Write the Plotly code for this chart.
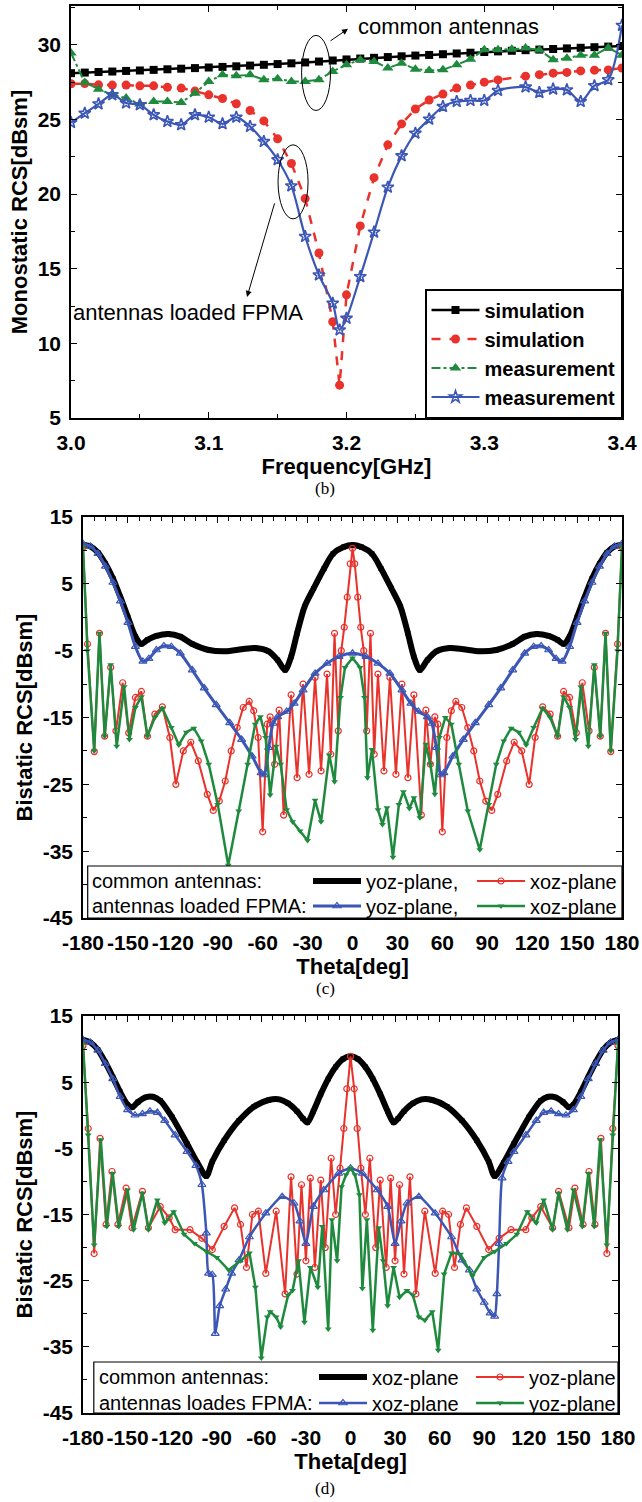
import plotly.graph_objects as go

W, H = 642, 1502

# ---------------- (b) Monostatic RCS vs frequency ----------------
freq_black = [3.00, 3.01, 3.02, 3.03, 3.04, 3.05, 3.06, 3.07, 3.08, 3.09, 3.10,
              3.11, 3.12, 3.13, 3.14, 3.15, 3.16, 3.17, 3.18, 3.19, 3.20,
              3.21, 3.22, 3.23, 3.24, 3.25, 3.26, 3.27, 3.28, 3.29, 3.30,
              3.31, 3.32, 3.33, 3.34, 3.35, 3.36, 3.37, 3.38, 3.39, 3.40]
rcs_sim_common = [28.10, 28.14, 28.18, 28.21, 28.25, 28.28, 28.32, 28.36, 28.40, 28.44, 28.48,
                  28.52, 28.56, 28.61, 28.66, 28.71, 28.76, 28.82, 28.88, 28.95, 29.02,
                  29.08, 29.13, 29.18, 29.23, 29.28, 29.32, 29.37, 29.42, 29.47, 29.52,
                  29.56, 29.60, 29.64, 29.68, 29.72, 29.76, 29.80, 29.84, 29.88, 29.92]

freq_red = [3.00, 3.01, 3.02, 3.03, 3.04, 3.05, 3.06, 3.07, 3.08, 3.09, 3.10,
            3.11, 3.12, 3.13, 3.14, 3.15, 3.16, 3.17, 3.18, 3.19, 3.195, 3.20,
            3.21, 3.22, 3.23, 3.24, 3.25, 3.26, 3.27, 3.28, 3.29, 3.30,
            3.31, 3.33, 3.34, 3.35, 3.36, 3.37, 3.38, 3.39, 3.40]
rcs_sim_fpma = [27.39, 27.40, 27.32, 27.30, 27.30, 27.25, 27.25, 27.15, 27.10, 26.90, 26.65,
                26.40, 26.05, 25.60, 24.90, 23.70, 22.05, 19.70, 16.05, 11.45, 7.20, 13.25,
                17.87, 21.10, 23.30, 24.70, 25.70, 26.30, 26.70, 27.10, 27.30, 27.50,
                27.65, 27.90, 28.00, 28.10, 28.15, 28.25, 28.30, 28.32, 28.45]

freq_green = [3.00, 3.01, 3.02, 3.03, 3.04, 3.05, 3.06, 3.07, 3.08, 3.09, 3.10,
              3.11, 3.12, 3.13, 3.14, 3.15, 3.16, 3.17, 3.18, 3.19, 3.20,
              3.21, 3.22, 3.23, 3.24, 3.25, 3.26, 3.27, 3.28, 3.29, 3.30,
              3.31, 3.32, 3.33, 3.34, 3.35, 3.36, 3.37, 3.38, 3.39, 3.40]
rcs_meas_common = [29.45, 27.48, 27.03, 26.65, 26.43, 26.03, 26.20, 26.20, 26.14, 26.76, 27.55,
                   27.99, 27.92, 27.99, 27.66, 27.73, 27.55, 27.55, 27.66, 28.22, 28.66,
                   29.00, 28.89, 28.44, 28.77, 28.37, 28.28, 28.33, 28.66, 29.04, 29.67,
                   29.67, 29.70, 29.78, 29.66, 29.00, 29.10, 29.30, 29.30, 29.80, 29.30]

freq_blue = [3.00, 3.01, 3.02, 3.03, 3.04, 3.05, 3.06, 3.07, 3.08, 3.09, 3.10,
             3.11, 3.12, 3.13, 3.14, 3.15, 3.16, 3.17, 3.18, 3.19, 3.195, 3.20,
             3.21, 3.22, 3.23, 3.24, 3.25, 3.26, 3.27, 3.28, 3.29, 3.30,
             3.31, 3.33, 3.34, 3.35, 3.36, 3.37, 3.38, 3.39, 3.40]
rcs_meas_fpma = [24.79, 25.42, 26.04, 26.65, 26.10, 25.98, 25.31, 24.86, 24.64, 25.31, 25.15,
                 24.71, 25.15, 24.53, 23.52, 22.30, 20.55, 17.16, 14.58, 12.69, 10.90, 11.68,
                 14.47, 17.45, 20.46, 22.56, 24.08, 25.02, 25.86, 26.20, 26.27, 26.27,
                 26.94, 27.17, 26.80, 27.03, 26.98, 26.20, 27.26, 27.66, 31.30]

freq_tickvals = [3.0, 3.1, 3.2, 3.3, 3.4]
freq_ticktext = ["3.0", "3.1", "3.2", "3.3", "3.4"]
mono_tickvals = [5, 10, 15, 20, 25, 30]
mono_ticktext = ["5", "10", "15", "20", "25", "30"]

# ---------------- (c) Bistatic RCS, first case ----------------
c_black_theta = [-180, -175, -170, -165, -160, -155, -150, -145, -141, -137, -131, -123, -115, -107,
                 -96, -85, -74, -65, -56, -50, -45, -41, -37, -32, -26, -19, -13, -6, 0,
                 6, 13, 19, 26, 32, 37, 41, 45, 50, 56, 65, 74, 85, 96,
                 107, 115, 123, 131, 137, 141, 145, 150, 155, 160, 165, 170, 175, 180]
c_black_val = [10.8, 10.6, 9.7, 8.0, 5.8, 3.0, 0.0, -2.9, -4.0, -3.4, -2.8, -2.5, -2.9, -4.0,
               -4.9, -5.1, -4.8, -4.6, -5.1, -6.4, -7.9, -5.9, -2.4, 1.6, 4.3, 7.3, 9.5, 10.5, 10.8,
               10.5, 9.5, 7.3, 4.3, 1.6, -2.4, -5.9, -7.9, -6.4, -5.1, -4.6, -4.8, -5.1, -4.9,
               -4.0, -2.9, -2.5, -2.8, -3.4, -4.0, -2.9, 0.0, 3.0, 5.8, 8.0, 9.7, 10.6, 10.8]

c_red_theta = [-180, -177, -172.5, -169, -165.5, -161.5, -158, -153.5, -149.5, -145, -141, -137,
               -132, -127, -122, -118, -113, -108, -103, -97, -93, -89, -85, -81, -77, -73,
               -69, -66, -63, -60, -57, -55, -52, -49, -46, -41, -37, -33, -29, -25, -21,
               -17, -14.5, -12, -9.5, -7.5, -5.5, -3.5, -1.5, 0,
               1.5, 3.5, 5.5, 7.5, 9.5, 12, 14.5, 17, 21, 25, 29, 33, 37, 41, 46, 49, 52,
               55, 57, 60, 63, 66, 69, 73, 77, 81, 85, 89, 93, 97, 103, 108, 113, 118,
               122, 127, 132, 137, 141, 145, 149.5, 153.5, 158, 161.5, 165.5, 169, 172.5, 177, 180]
c_red_val = [10.5, -4.0, -20.1, -2.4, -17.8, -7.5, -17.0, -9.8, -17.3, -12.0, -11.1, -17.8,
             -14.5, -13.4, -18.0, -25.0, -20.0, -18.7, -21.5, -26.5, -28.9, -27.5, -24.5, -20.0, -16.5, -13.5,
             -12.6, -14.0, -18.0, -32.1, -16.0, -14.9, -22.0, -13.9, -29.6, -11.6, -24.0, -10.0, -23.5, -9.0, -23.0,
             -8.5, -20.5, -2.4, -17.0, -5.0, -1.5, 3.0, 8.0, 10.3,
             8.0, 3.0, -1.5, -5.0, -17.0, -2.4, -20.5, -8.5, -23.0, -9.0, -23.5, -10.0, -24.0, -11.6, -29.6, -13.9, -22.0,
             -14.9, -16.0, -32.1, -18.0, -14.0, -12.6, -13.5, -16.5, -20.0, -24.5, -27.5, -28.9, -26.5, -21.5, -18.7, -20.0, -25.0,
             -18.0, -13.4, -14.5, -17.8, -11.1, -12.0, -17.3, -9.8, -17.0, -7.5, -17.8, -2.4, -20.1, -4.0, 10.5]

c_blue_theta = [-180, -175, -170, -165, -160, -155, -150, -145, -140, -136, -131, -126, -121, -115,
                -107, -99, -91, -82, -74, -67, -61, -59, -56, -53, -50, -44, -39, -33, -25, -17, -9, 0,
                9, 17, 25, 33, 39, 44, 50, 53, 56, 59, 61, 67, 74, 82, 91, 99, 107,
                115, 121, 126, 131, 136, 140, 145, 150, 155, 160, 165, 170, 175, 180]
c_blue_val = [11.0, 10.6, 9.5, 7.6, 5.2, 2.4, -0.8, -4.4, -6.6, -6.2, -4.9, -4.3, -4.4, -5.4,
              -7.9, -10.6, -13.1, -15.8, -18.3, -20.8, -23.3, -23.6, -19.5, -15.9, -14.9, -14.1, -12.9, -10.9, -8.4, -6.9, -5.9, -5.4,
              -5.9, -6.9, -8.4, -10.9, -12.9, -14.1, -14.9, -15.9, -19.5, -23.6, -23.3, -20.8, -18.3, -15.8, -13.1, -10.6, -7.9,
              -5.4, -4.4, -4.3, -4.9, -6.2, -6.6, -4.4, -0.8, 2.4, 5.2, 7.6, 9.5, 10.6, 11.0]

c_green_theta = [-180, -177, -172.5, -169, -165.5, -161.5, -157.5, -152.5, -149, -145, -141, -137, -132,
                 -127, -121, -116, -111, -106, -101, -96, -90, -83, -76, -70, -65, -61.5, -58, -55, -51,
                 -48, -44, -40, -35, -30, -25, -21, -15.5, -12, -8, -5, 0,
                 5, 8, 10, 13, 17, 20, 23, 27, 31, 34, 38, 41, 45, 49, 52, 55, 58, 62, 66,
                 71, 77, 85, 91, 96, 101, 106, 111, 116, 121, 127, 132, 137, 141, 145, 149,
                 152.5, 157.5, 161.5, 165.5, 169, 172.5, 177, 180]
c_green_val = [10.5, -5.0, -20.0, -2.4, -17.8, -7.1, -19.3, -10.4, -18.3, -13.5, -11.9, -17.8, -15.0,
               -13.6, -16.5, -19.1, -17.2, -16.6, -18.5, -22.0, -28.0, -37.1, -29.0, -22.0, -16.0, -14.9, -18.0, -26.6, -19.3,
               -22.0, -28.8, -30.6, -32.0, -33.4, -27.4, -30.6, -20.6, -24.6, -12.0, -7.5, -6.1,
               -7.5, -12.0, -24.0, -19.8, -28.8, -31.0, -28.5, -35.9, -28.0, -26.1, -28.6, -27.0, -30.0, -19.0, -22.0, -26.5, -18.0, -15.0, -16.0,
               -22.0, -29.0, -34.8, -28.0, -22.0, -18.5, -16.6, -17.2, -19.1, -16.5, -13.6, -15.0, -17.8, -11.9, -13.5, -18.3,
               -10.4, -19.3, -7.1, -17.8, -2.4, -20.0, -5.0, 10.5]

# ---------------- (d) Bistatic RCS, second case ----------------
d_black_theta = [-180, -175, -170, -165, -160, -155, -150, -147, -143, -138, -133, -128, -120, -110,
                 -103, -97, -93, -85, -75, -65, -55, -48, -42, -36, -32, -29, -25, -20, -15, -10, -5, 0,
                 5, 10, 15, 20, 25, 29, 32, 36, 42, 48, 55, 65, 75, 85, 93, 97,
                 103, 110, 120, 128, 133, 138, 143, 147, 150, 155, 160, 165, 170, 175, 180]
d_black_val = [11.4, 11.0, 9.9, 8.0, 5.8, 3.5, 1.6, 1.2, 2.0, 2.7, 2.8, 2.2, -0.3, -4.3,
               -7.2, -9.2, -7.0, -3.8, -0.8, 1.3, 2.3, 2.4, 1.8, 0.6, -0.5, -1.1, 0.6, 3.2, 5.5, 7.3, 8.5, 8.9,
               8.5, 7.3, 5.5, 3.2, 0.6, -1.1, -0.5, 0.6, 1.8, 2.4, 2.3, 1.3, -0.8, -3.8, -7.0, -9.2,
               -7.2, -4.3, -0.3, 2.2, 2.8, 2.7, 2.0, 1.2, 1.6, 3.5, 5.8, 8.0, 9.9, 11.0, 11.4]

d_red_theta = [-180, -176.5, -172.5, -168.5, -164.5, -160.5, -156.5, -151, -147, -140, -136, -128,
               -122, -118, -108, -100, -93, -85, -78, -74, -70, -66, -62, -57, -50, -44, -40, -36,
               -33, -30, -27, -24, -20, -17, -13, -10, -7, -4.5, -2.5, 0,
               2.5, 4.5, 7, 10, 13, 17, 20, 24, 27, 30, 33, 36, 40, 44, 50, 57, 62, 66, 70,
               74, 78, 85, 93, 100, 108, 118, 122, 128, 136, 140, 147, 151, 156.5, 160.5,
               164.5, 168.5, 172.5, 176.5, 180]
d_red_val = [10.5, -2.0, -20.9, -3.5, -16.5, -8.5, -16.5, -11.0, -17.0, -11.5, -17.0, -13.8,
             -15.5, -17.3, -17.3, -18.6, -20.3, -16.8, -14.0, -16.5, -23.0, -15.0, -14.5, -23.9, -14.5, -27.0, -9.3, -24.0,
             -10.5, -22.0, -9.5, -23.0, -9.8, -20.0, -6.5, -15.0, -8.0, -2.0, 4.0, 8.9,
             4.0, -2.0, -8.0, -15.0, -6.5, -20.0, -9.8, -23.0, -9.5, -22.0, -10.5, -24.0, -9.3, -27.0, -14.5, -23.9, -14.5, -15.0, -23.0,
             -16.5, -14.0, -16.8, -20.3, -18.6, -17.3, -17.3, -15.5, -13.8, -17.0, -11.5, -17.0, -11.0, -16.5, -8.5,
             -16.5, -3.5, -20.9, -2.0, 10.5]

d_blue_theta = [-180, -175, -170, -165, -160, -155, -150, -145, -140, -135, -130, -125, -118, -110,
                -104, -100, -97, -95.5, -93, -91, -88, -84, -80, -75, -68, -57, -46, -38, -34, -30,
                -25, -18, -8, 0,
                8, 18, 25, 30, 34, 38, 46, 57, 68, 75, 80, 85, 90, 94, 97, 98.5, 100, 102,
                106, 110, 118, 125, 130, 135, 140, 145, 150, 155, 160, 165, 170, 175, 180]
d_blue_val = [11.4, 11.0, 9.8, 7.8, 5.5, 2.8, 0.8, 0.0, 0.2, 0.6, 0.4, -0.8, -3.0, -5.5,
              -7.6, -10.5, -17.8, -23.9, -24.1, -33.0, -28.8, -26.3, -23.9, -21.9, -18.4, -14.8, -12.3, -13.3, -16.0, -19.4,
              -13.8, -11.3, -8.8, -8.0,
              -8.8, -11.3, -13.8, -19.4, -16.0, -13.3, -12.3, -14.8, -18.4, -21.9, -23.4, -26.3, -28.3, -29.9, -30.4, -27.0, -19.4, -9.5,
              -7.0, -5.5, -3.0, -0.8, 0.4, 0.6, 0.2, 0.0, 0.8, 2.8, 5.5, 7.8, 9.8, 11.0, 11.4]

d_green_theta = [-180, -176.5, -172.5, -168, -164, -160, -156, -150, -146, -140, -136, -130, -125,
                 -119, -112, -105, -97, -90, -82, -74, -68, -64, -60, -56, -54, -50, -47, -42, -39,
                 -35, -31, -27, -22, -19, -15, -12.5, -9, -6, -3, 0,
                 3, 6, 8, 11, 15, 19, 22, 25, 29, 33, 38, 42, 46, 50, 55, 59, 63, 68, 74,
                 82, 90, 97, 105, 112, 119, 125, 130, 136, 140, 146, 150, 156, 160, 164, 168,
                 172.5, 176.5, 180]
d_green_val = [10.8, -3.0, -19.6, -3.7, -16.8, -8.8, -16.8, -11.3, -17.3, -11.8, -17.3, -12.8, -16.3,
               -14.6, -18.0, -19.4, -20.6, -21.5, -23.4, -22.0, -20.8, -26.0, -36.7, -30.5, -29.7, -30.5, -32.0, -27.2, -26.5,
               -22.0, -31.3, -23.0, -26.0, -16.8, -32.3, -15.8, -22.0, -10.8, -9.0, -8.0,
               -9.0, -12.0, -26.2, -15.8, -32.5, -17.0, -22.0, -28.8, -23.0, -27.5, -26.5, -27.2, -30.5, -31.0, -29.7, -35.5, -24.0, -20.8, -21.0,
               -24.3, -21.5, -20.6, -19.4, -18.0, -14.6, -16.3, -12.8, -17.3, -11.8, -17.3, -11.3, -16.8, -8.8, -16.8, -3.7,
               -19.6, -3.0, 10.8]

theta_tickvals = [-180, -150, -120, -90, -60, -30, 0, 30, 60, 90, 120, 150, 180]
theta_ticktext = ["-180", "-150", "-120", "-90", "-60", "-30", "0", "30", "60", "90", "120", "150", "180"]
bi_tickvals = [15, 5, -5, -15, -25, -35, -45]
bi_ticktext = ["15", "5", "-5", "-15", "-25", "-35", "-45"]

# ---------------- styling ----------------
BLACK = "#000000"
RED = "#e8322b"
GREEN = "#1f8a3e"
BLUE = "#3b56b5"
SANS = "Liberation Sans"
SERIF = "Liberation Serif"


def px2x(px):
    return px / W


def px2y(py):
    return 1 - py / H


fig = go.Figure()

# (b)
fig.add_trace(go.Scatter(x=freq_black, y=rcs_sim_common, name="simulation", mode="lines+markers",
                         line=dict(color=BLACK, width=2.5),
                         marker=dict(symbol="square", size=8, color=BLACK),
                         xaxis="x", yaxis="y", legend="legend"))
fig.add_trace(go.Scatter(x=freq_red, y=rcs_sim_fpma, name="simulation", mode="lines+markers",
                         line=dict(color=RED, width=2.5, dash="dash"),
                         marker=dict(symbol="circle", size=9, color=RED),
                         xaxis="x", yaxis="y", legend="legend"))
fig.add_trace(go.Scatter(x=freq_green, y=rcs_meas_common, name="measurement", mode="lines+markers",
                         line=dict(color=GREEN, width=2, dash="dashdot"),
                         marker=dict(symbol="triangle-up", size=10, color=GREEN),
                         xaxis="x", yaxis="y", legend="legend"))
fig.add_trace(go.Scatter(x=freq_blue, y=rcs_meas_fpma, name="measurement", mode="lines+markers",
                         line=dict(color=BLUE, width=2.2, shape="spline", smoothing=0.8),
                         marker=dict(symbol="star-open", size=9, color=BLUE, line=dict(width=1.6, color=BLUE)),
                         xaxis="x", yaxis="y", legend="legend"))

# (c)
fig.add_trace(go.Scatter(x=c_black_theta, y=c_black_val, name="yoz-plane,", mode="lines+markers",
                         line=dict(color=BLACK, width=6, shape="spline", smoothing=0.8),
                         marker=dict(symbol="square", size=5, color=BLACK),
                         xaxis="x2", yaxis="y2", legend="legend2"))
fig.add_trace(go.Scatter(x=c_red_theta, y=c_red_val, name="xoz-plane", mode="lines+markers",
                         line=dict(color=RED, width=2),
                         marker=dict(symbol="circle-open", size=6, color=RED, line=dict(width=1.2, color=RED)),
                         xaxis="x2", yaxis="y2", legend="legend2"))
fig.add_trace(go.Scatter(x=c_blue_theta, y=c_blue_val, name="yoz-plane,", mode="lines+markers",
                         line=dict(color=BLUE, width=3, shape="spline", smoothing=0.8),
                         marker=dict(symbol="triangle-up-open", size=7, color=BLUE, line=dict(width=1.2, color=BLUE)),
                         xaxis="x2", yaxis="y2", legend="legend3"))
fig.add_trace(go.Scatter(x=c_green_theta, y=c_green_val, name="xoz-plane", mode="lines+markers",
                         line=dict(color=GREEN, width=2.5),
                         marker=dict(symbol="triangle-down", size=6, color=GREEN),
                         xaxis="x2", yaxis="y2", legend="legend3"))

# (d)
fig.add_trace(go.Scatter(x=d_black_theta, y=d_black_val, name="xoz-plane", mode="lines+markers",
                         line=dict(color=BLACK, width=6, shape="spline", smoothing=0.8),
                         marker=dict(symbol="square", size=5, color=BLACK),
                         xaxis="x3", yaxis="y3", legend="legend4"))
fig.add_trace(go.Scatter(x=d_red_theta, y=d_red_val, name="yoz-plane", mode="lines+markers",
                         line=dict(color=RED, width=2),
                         marker=dict(symbol="circle-open", size=6, color=RED, line=dict(width=1.2, color=RED)),
                         xaxis="x3", yaxis="y3", legend="legend4"))
fig.add_trace(go.Scatter(x=d_blue_theta, y=d_blue_val, name="xoz-plane", mode="lines+markers",
                         line=dict(color=BLUE, width=2.5, shape="spline", smoothing=0.6),
                         marker=dict(symbol="triangle-up-open", size=7, color=BLUE, line=dict(width=1.2, color=BLUE)),
                         xaxis="x3", yaxis="y3", legend="legend5"))
fig.add_trace(go.Scatter(x=d_green_theta, y=d_green_val, name="yoz-plane", mode="lines+markers",
                         line=dict(color=GREEN, width=2.5),
                         marker=dict(symbol="triangle-down", size=6, color=GREEN),
                         xaxis="x3", yaxis="y3", legend="legend5"))

tick_font = dict(family=SANS, size=21, color="black", weight="bold")
title_font = dict(family=SANS, size=22, color="black", weight="bold")


def axis_common():
    return dict(showline=True, linecolor="black", linewidth=1.5, mirror="allticks",
                ticks="inside", ticklen=6, tickwidth=1.2, tickcolor="black",
                showgrid=False, zeroline=False, tickfont=tick_font, tickangle=0,
                title_font=title_font, automargin=False)


# axes (b)
xb = axis_common()
xb.update(domain=[px2x(71), px2x(622)], range=[3.0, 3.4], anchor="y",
          tickmode="array", tickvals=freq_tickvals, ticktext=freq_ticktext,
          minor=dict(dtick=0.05, tick0=3.0, ticks="inside", ticklen=4, tickcolor="black"),
          title=dict(text="Frequency[GHz]", standoff=0), ticklabelstandoff=5)
yb = axis_common()
yb.update(domain=[px2y(418), px2y(6)], range=[5, 32.6], anchor="x",
          tickmode="array", tickvals=mono_tickvals, ticktext=mono_ticktext,
          minor=dict(dtick=2.5, tick0=5, ticks="inside", ticklen=4, tickcolor="black"),
          title=dict(text="Monostatic RCS[dBsm]", standoff=4), ticklabelstandoff=4)

# axes (c)
xc = axis_common()
xc.update(domain=[px2x(83), px2x(622)], range=[-180, 180], anchor="y2",
          tickmode="array", tickvals=theta_tickvals, ticktext=theta_ticktext,
          minor=dict(dtick=7.5, tick0=-180, ticks="inside", ticklen=4, tickcolor="black"),
          title=dict(text="Theta[deg]", standoff=0), ticklabelstandoff=5)
yc = axis_common()
yc.update(domain=[px2y(918), px2y(517)], range=[-45, 15], anchor="x2",
          tickmode="array", tickvals=bi_tickvals, ticktext=bi_ticktext,
          minor=dict(dtick=5, tick0=-45, ticks="inside", ticklen=4, tickcolor="black"),
          title=dict(text="Bistatic RCS[dBsm]", standoff=4), ticklabelstandoff=4)

# axes (d)
xd = axis_common()
xd.update(domain=[px2x(83), px2x(618)], range=[-180, 180], anchor="y3",
          tickmode="array", tickvals=theta_tickvals, ticktext=theta_ticktext,
          minor=dict(dtick=7.5, tick0=-180, ticks="inside", ticklen=4, tickcolor="black"),
          title=dict(text="Theta[deg]", standoff=0), ticklabelstandoff=5)
yd = axis_common()
yd.update(domain=[px2y(1413), px2y(1016)], range=[-45, 15], anchor="x3",
          tickmode="array", tickvals=bi_tickvals, ticktext=bi_ticktext,
          minor=dict(dtick=5, tick0=-45, ticks="inside", ticklen=4, tickcolor="black"),
          title=dict(text="Bistatic RCS[dBsm]", standoff=4), ticklabelstandoff=4)

leg_font_c = dict(family=SANS, size=20, color="black")

fig.update_layout(
    template="none",
    width=W, height=H,
    margin=dict(l=0, r=0, t=0, b=0, autoexpand=False),
    font=dict(family=SANS, color="black"),
    paper_bgcolor="white", plot_bgcolor="white",
    xaxis=xb, yaxis=yb, xaxis2=xc, yaxis2=yc, xaxis3=xd, yaxis3=yd,
    legend=dict(x=px2x(622), y=px2y(418), xanchor="right", yanchor="bottom",
                bgcolor="white", bordercolor="black", borderwidth=1.5,
                font=dict(family=SANS, size=20, color="black", weight="bold"),
                itemwidth=48, tracegroupgap=0),
    legend2=dict(x=px2x(308), y=px2y(881), xanchor="left", yanchor="middle",
                 orientation="h", bgcolor="rgba(0,0,0,0)", borderwidth=0,
                 font=leg_font_c, itemwidth=48, entrywidth=101, entrywidthmode="pixels"),
    legend3=dict(x=px2x(308), y=px2y(906), xanchor="left", yanchor="middle",
                 orientation="h", bgcolor="rgba(0,0,0,0)", borderwidth=0,
                 font=leg_font_c, itemwidth=48, entrywidth=101, entrywidthmode="pixels"),
    legend4=dict(x=px2x(314), y=px2y(1377), xanchor="left", yanchor="middle",
                 orientation="h", bgcolor="rgba(0,0,0,0)", borderwidth=0,
                 font=leg_font_c, itemwidth=48, entrywidth=94, entrywidthmode="pixels"),
    legend5=dict(x=px2x(314), y=px2y(1403), xanchor="left", yanchor="middle",
                 orientation="h", bgcolor="rgba(0,0,0,0)", borderwidth=0,
                 font=leg_font_c, itemwidth=48, entrywidth=94, entrywidthmode="pixels"),
)

shapes = [
    # ellipses in (b)
    dict(type="circle", xref="x", yref="y", x0=3.1674, x1=3.1884, y0=25.6, y1=30.63,
         line=dict(color="black", width=1)),
    dict(type="circle", xref="x", yref="y", x0=3.1503, x1=3.1721, y0=18.34, y1=23.3,
         line=dict(color="black", width=1)),
    # legend boxes (c) and (d)
    dict(type="rect", xref="paper", yref="paper", x0=px2x(87.7), x1=px2x(622), y0=px2y(918), y1=px2y(866),
         line=dict(color="black", width=1.2), fillcolor="white", layer="above"),
    dict(type="rect", xref="paper", yref="paper", x0=px2x(93.8), x1=px2x(618), y0=px2y(1413), y1=px2y(1362),
         line=dict(color="black", width=1.2), fillcolor="white", layer="above"),
]

row_font = dict(family=SANS, size=20, color="black")
cap_font = dict(family=SERIF, size=17, color="black")

annotations = [
    dict(x=3.2011, y=31.07, ax=3.1873, ay=30.2, xref="x", yref="y", axref="x", ayref="y",
         text="", showarrow=True, arrowhead=2, arrowsize=1.2, arrowwidth=1, arrowcolor="black"),
    dict(x=3.2069, y=31.2, xref="x", yref="y", xanchor="left", yanchor="middle", showarrow=False,
         text="common antennas", font=dict(family=SANS, size=22, color="black")),
    dict(x=3.1278, y=13.11, ax=3.1481, ay=19.48, xref="x", yref="y", axref="x", ayref="y",
         text="", showarrow=True, arrowhead=2, arrowsize=1.2, arrowwidth=1, arrowcolor="black"),
    dict(x=3.0, y=12.04, xref="x", yref="y", xanchor="left", yanchor="middle", showarrow=False,
         text="antennas loaded FPMA", font=dict(family=SANS, size=22, color="black")),
    # legend row labels
    dict(x=px2x(90), y=px2y(881), xref="paper", yref="paper", xanchor="left", yanchor="middle",
         showarrow=False, text="common antennas:", font=row_font),
    dict(x=px2x(90), y=px2y(906), xref="paper", yref="paper", xanchor="left", yanchor="middle",
         showarrow=False, text="antennas loaded FPMA:", font=row_font),
    dict(x=px2x(97), y=px2y(1377), xref="paper", yref="paper", xanchor="left", yanchor="middle",
         showarrow=False, text="common antennas:", font=row_font),
    dict(x=px2x(97), y=px2y(1403), xref="paper", yref="paper", xanchor="left", yanchor="middle",
         showarrow=False, text="antennas loades FPMA:", font=row_font),
    # captions
    dict(x=px2x(325), y=px2y(488), xref="paper", yref="paper", xanchor="center", yanchor="middle",
         showarrow=False, text="(b)", font=cap_font),
    dict(x=px2x(325), y=px2y(988), xref="paper", yref="paper", xanchor="center", yanchor="middle",
         showarrow=False, text="(c)", font=cap_font),
    dict(x=px2x(325), y=px2y(1488), xref="paper", yref="paper", xanchor="center", yanchor="middle",
         showarrow=False, text="(d)", font=cap_font),
]

fig.update_layout(shapes=shapes, annotations=annotations)

fig.write_html("out.html")
